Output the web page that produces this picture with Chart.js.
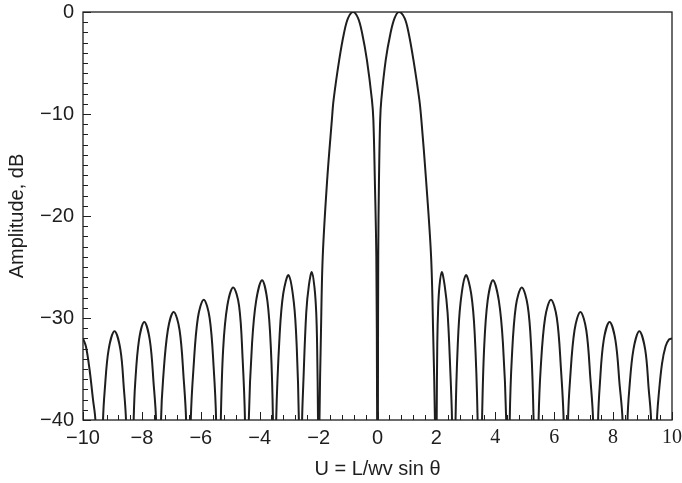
<!DOCTYPE html>
<html>
<head>
  <meta charset="UTF-8">
  <title>Amplitude pattern</title>
  <script src="https://cdn.jsdelivr.net/npm/chart.js"></script>
  <style>
    body { margin: 0; background: #fff; }
    #wrap { width: 682px; height: 483px; }
  </style>
</head>
<body>
  <div id="wrap"><canvas id="chart" width="682" height="483"></canvas></div>
  <script>
    // U values and amplitude (dB), lobe by lobe
    const uValues = [
      -10, -9.9, -9.78, -9.66, -9.58, -9.45,
      -9.32, -9.26, -9.13, -8.93, -8.73, -8.61, -8.54, -8.41,
      -8.28, -8.23, -8.10, -7.92, -7.73, -7.60, -7.52, -7.43,
      -7.35, -7.28, -7.12, -6.92, -6.72, -6.58, -6.50, -6.42,
      -6.34, -6.25, -6.10, -5.90, -5.70, -5.56, -5.48, -5.40,
      -5.32, -5.24, -5.10, -4.90, -4.70, -4.58, -4.50, -4.44,
      -4.37, -4.26, -4.12, -3.92, -3.74, -3.62, -3.55, -3.50,
      -3.44, -3.32, -3.20, -3.02, -2.84, -2.74, -2.67, -2.62,
      -2.56, -2.52, -2.42, -2.33, -2.23, -2.14, -2.08, -2.05, -2.02, -1.995,
      -1.97, -1.92, -1.86, -1.71, -1.55, -1.49, -1.30, -1.14, -1.00, -0.83,
      -0.66, -0.52, -0.36, -0.19, -0.14, -0.09, -0.04, -0.015, 0,
      0.015, 0.025, 0.05, 0.09, 0.13, 0.28, 0.44, 0.58, 0.73,
      0.92, 1.06, 1.22, 1.42, 1.49, 1.65, 1.82, 1.89, 1.95, 1.99,
      2.01, 2.03, 2.06, 2.10, 2.18, 2.28, 2.38, 2.47, 2.53, 2.59,
      2.65, 2.72, 2.82, 3.00, 3.18, 3.30, 3.40, 3.47,
      3.55, 3.62, 3.74, 3.92, 4.12, 4.26, 4.37, 4.43,
      4.49, 4.56, 4.70, 4.90, 5.10, 5.22, 5.30, 5.38,
      5.47, 5.54, 5.69, 5.89, 6.09, 6.23, 6.32, 6.40,
      6.47, 6.54, 6.69, 6.89, 7.09, 7.23, 7.32, 7.40,
      7.49, 7.55, 7.68, 7.88, 8.08, 8.22, 8.32, 8.41,
      8.49, 8.55, 8.69, 8.89, 9.09, 9.21, 9.29, 9.40,
      9.49, 9.55, 9.66, 9.78, 9.90, 10
    ];
    const ampDb = [
      -32.0, -32.8, -35, -38, -40, -55,
      -40, -37, -33.1, -31.3, -33.1, -37, -40, -55,
      -40, -36.5, -32.2, -30.4, -32.2, -36.5, -40, -55,
      -40, -36, -31.2, -29.4, -31.2, -36, -40, -55,
      -40, -35, -30, -28.2, -30, -35, -40, -55,
      -40, -33, -28.8, -27, -28.8, -34, -40, -55,
      -40, -32.5, -28.3, -26.3, -28.3, -33, -40, -55,
      -40, -31.5, -27.6, -25.8, -28.5, -33, -40, -55,
      -40, -36.5, -29.5, -26.8, -25.5, -27, -29.5, -32.8, -40, -55,
      -40, -31.5, -24, -16.5, -10.6, -8.6, -4.7, -2.1, -0.6, 0,
      -0.6, -2.1, -4.7, -8.6, -10.6, -16.5, -24, -38, -55,
      -38, -24, -16.5, -10.6, -8.6, -4.7, -2.1, -0.6, 0,
      -0.6, -2.1, -4.7, -8.6, -10.6, -16.5, -24, -31.5, -40, -55,
      -40, -32.5, -29, -27, -25.5, -26.8, -29.5, -35, -40, -55,
      -40, -33, -28.5, -25.8, -27.6, -31.5, -40, -55,
      -40, -33, -28.3, -26.3, -28.3, -32.5, -40, -55,
      -40, -34, -28.8, -27, -28.8, -33, -40, -55,
      -40, -35, -30, -28.2, -30, -35, -40, -55,
      -40, -36, -31.2, -29.4, -31.2, -36, -40, -55,
      -40, -36.5, -32.2, -30.4, -32.2, -36.5, -40, -55,
      -40, -37, -33.1, -31.3, -33.1, -37, -40, -55,
      -40, -37.5, -34.5, -32.8, -32.1, -32.0
    ];
    const xTickValues = [-10, -8, -6, -4, -2, 0, 2, 4, 6, 8, 10];
    const yTickValues = [-40, -30, -20, -10, 0];

    const ink = '#1e1e1e';
    const minus = v => String(v).replace('-', '\u2212');

    // box around the plot and small inward ticks (left and bottom only)
    const frameTicks = {
      id: 'frameTicks',
      afterDatasetsDraw(chart) {
        const { ctx, chartArea: a, scales: { x, y } } = chart;
        ctx.save();
        ctx.strokeStyle = ink;
        ctx.lineWidth = 1.3;
        ctx.strokeRect(a.left, a.top, a.right - a.left, a.bottom - a.top);
        ctx.beginPath();
        for (let i = 0; i <= 50; i++) {
          const px = Math.round(x.getPixelForValue(-10 + i * 0.4)) + 0.5;
          const len = i % 5 === 0 ? 8 : 5;
          ctx.moveTo(px, a.bottom);
          ctx.lineTo(px, a.bottom - len);
        }
        for (let i = 0; i <= 40; i++) {
          const py = Math.round(y.getPixelForValue(-i)) + 0.5;
          const len = i % 10 === 0 ? 8 : 5;
          ctx.moveTo(a.left, py);
          ctx.lineTo(a.left + len, py);
        }
        ctx.lineWidth = 1;
        ctx.stroke();
        ctx.restore();
      }
    };

    const noPad = s => { s.paddingTop = 0; s.paddingBottom = 0; s.paddingLeft = 0; s.paddingRight = 0; };

    new Chart(document.getElementById('chart'), {
      type: 'line',
      data: {
        datasets: [{
          data: uValues.map((u, i) => ({ x: u, y: ampDb[i] })),
          borderColor: ink,
          borderWidth: 2,
          pointRadius: 0,
          tension: 0.35,
          fill: false
        }]
      },
      options: {
        responsive: false,
        animation: false,
        layout: { padding: { top: 12, right: 10, left: 0, bottom: 0 } },
        plugins: { legend: { display: false }, tooltip: { enabled: false } },
        scales: {
          x: {
            type: 'linear',
            min: -10,
            max: 10,
            afterFit: s => { s.height = 63; noPad(s); },
            afterBuildTicks: s => { s.ticks = xTickValues.map(v => ({ value: v })); },
            grid: { display: false, drawTicks: false },
            border: { display: false },
            ticks: {
              padding: 6,
              color: ink,
              maxRotation: 0,
              autoSkip: false,
              callback: v => minus(v),
              font: c => ({
                family: c.tick && c.tick.value >= 4 ? '"Liberation Serif", serif' : '"Liberation Sans", Arial, sans-serif',
                size: 20
              })
            },
            title: {
              display: true,
              text: 'U = L/wv sin \u03b8',
              color: ink,
              font: { family: '"Liberation Sans", Arial, sans-serif', size: 20 },
              padding: { top: 0, bottom: 2 }
            }
          },
          y: {
            min: -40,
            max: 0,
            afterFit: s => { s.width = 83; noPad(s); },
            afterBuildTicks: s => { s.ticks = yTickValues.map(v => ({ value: v })); },
            grid: { display: false, drawTicks: false },
            border: { display: false },
            ticks: {
              padding: 9,
              color: ink,
              callback: v => minus(v),
              font: { family: '"Liberation Sans", Arial, sans-serif', size: 20 }
            },
            title: {
              display: true,
              text: 'Amplitude, dB',
              color: ink,
              font: { family: '"Liberation Sans", Arial, sans-serif', size: 20 },
              padding: { top: 5, bottom: 0 }
            }
          }
        }
      },
      plugins: [frameTicks]
    });
  </script>
</body>
</html>
